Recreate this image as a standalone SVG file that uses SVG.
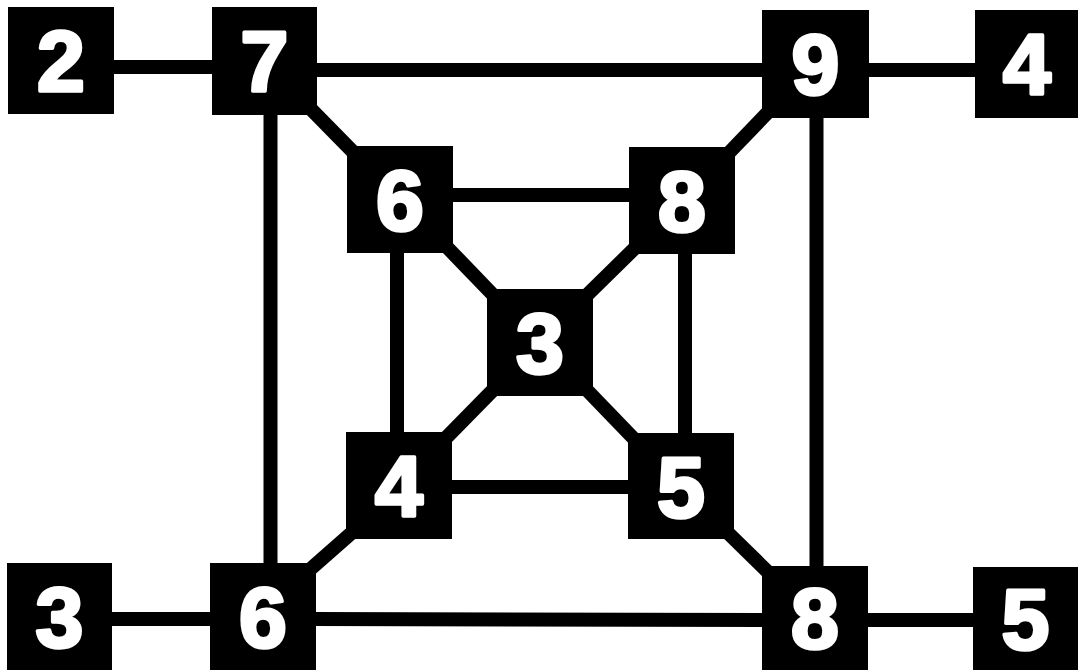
<svg xmlns="http://www.w3.org/2000/svg" width="1078" height="670" viewBox="0 0 1078 670">
<style>
.e{stroke:#000;stroke-width:14;fill:none}
.b{fill:#000}
.t{fill:#fff;stroke:#fff;stroke-width:3.5;stroke-linejoin:round;font-family:"Liberation Sans",Arial,sans-serif;font-weight:bold;font-size:86px;text-anchor:middle}
</style>
<rect width="1078" height="670" fill="#fff"/>
<g id="connectors">
<line class="e" x1="110" y1="67" x2="216" y2="67"/>
<line class="e" x1="312" y1="70" x2="766" y2="70"/>
<line class="e" x1="865" y1="70" x2="979" y2="70"/>
<line class="e" x1="270.5" y1="110" x2="270.5" y2="568"/>
<line class="e" x1="816.5" y1="112" x2="816.5" y2="570"/>
<line class="e" x1="108" y1="619" x2="214" y2="619"/>
<line class="e" x1="312" y1="619" x2="766" y2="620"/>
<line class="e" x1="864" y1="620" x2="977" y2="620"/>
<line class="e" x1="449" y1="195" x2="633" y2="195"/>
<line class="e" x1="448" y1="487" x2="632" y2="487"/>
<line class="e" x1="397" y1="249" x2="397" y2="436"/>
<line class="e" x1="685" y1="250" x2="685" y2="437"/>
<line class="e" x1="305" y1="103" x2="359" y2="158"/>
<line class="e" x1="774" y1="106" x2="723" y2="159"/>
<line class="e" x1="443" y1="243" x2="497" y2="299"/>
<line class="e" x1="639" y1="244" x2="583" y2="299"/>
<line class="e" x1="497" y1="386" x2="442" y2="442"/>
<line class="e" x1="583" y1="386" x2="638" y2="443"/>
<line class="e" x1="356" y1="529" x2="306" y2="573"/>
<line class="e" x1="724" y1="529" x2="772" y2="576"/>
</g>
<g id="n2"><rect class="b" x="8" y="7" width="106" height="107"/><text class="t" x="61" y="91">2</text></g>
<g id="n7"><rect class="b" x="212" y="7" width="105" height="108"/><text class="t" x="264.5" y="91">7</text></g>
<g id="n9"><rect class="b" x="762" y="10" width="107" height="108"/><text class="t" x="815.5" y="94">9</text></g>
<g id="n4top"><rect class="b" x="975" y="10" width="103" height="108"/><text class="t" x="1027" y="94">4</text></g>
<g id="n6in"><rect class="b" x="347" y="146" width="106" height="107"/><text class="t" x="400" y="230">6</text></g>
<g id="n8in"><rect class="b" x="629" y="147" width="106" height="107"/><text class="t" x="682" y="231">8</text></g>
<g id="n3c"><rect class="b" x="487" y="289" width="106" height="107"/><text class="t" x="540" y="373">3</text></g>
<g id="n4in"><rect class="b" x="346" y="432" width="106" height="107"/><text class="t" x="399" y="516">4</text></g>
<g id="n5in"><rect class="b" x="628" y="433" width="106" height="106"/><text class="t" x="681" y="517">5</text></g>
<g id="n3bot"><rect class="b" x="7" y="563" width="105" height="107"/><text class="t" x="59.5" y="647">3</text></g>
<g id="n6bot"><rect class="b" x="210" y="563" width="106" height="107"/><text class="t" x="263" y="647">6</text></g>
<g id="n8bot"><rect class="b" x="762" y="566" width="106" height="104"/><text class="t" x="815" y="648">8</text></g>
<g id="n5bot"><rect class="b" x="973" y="567" width="105" height="103"/><text class="t" x="1025.5" y="649">5</text></g>
</svg>
